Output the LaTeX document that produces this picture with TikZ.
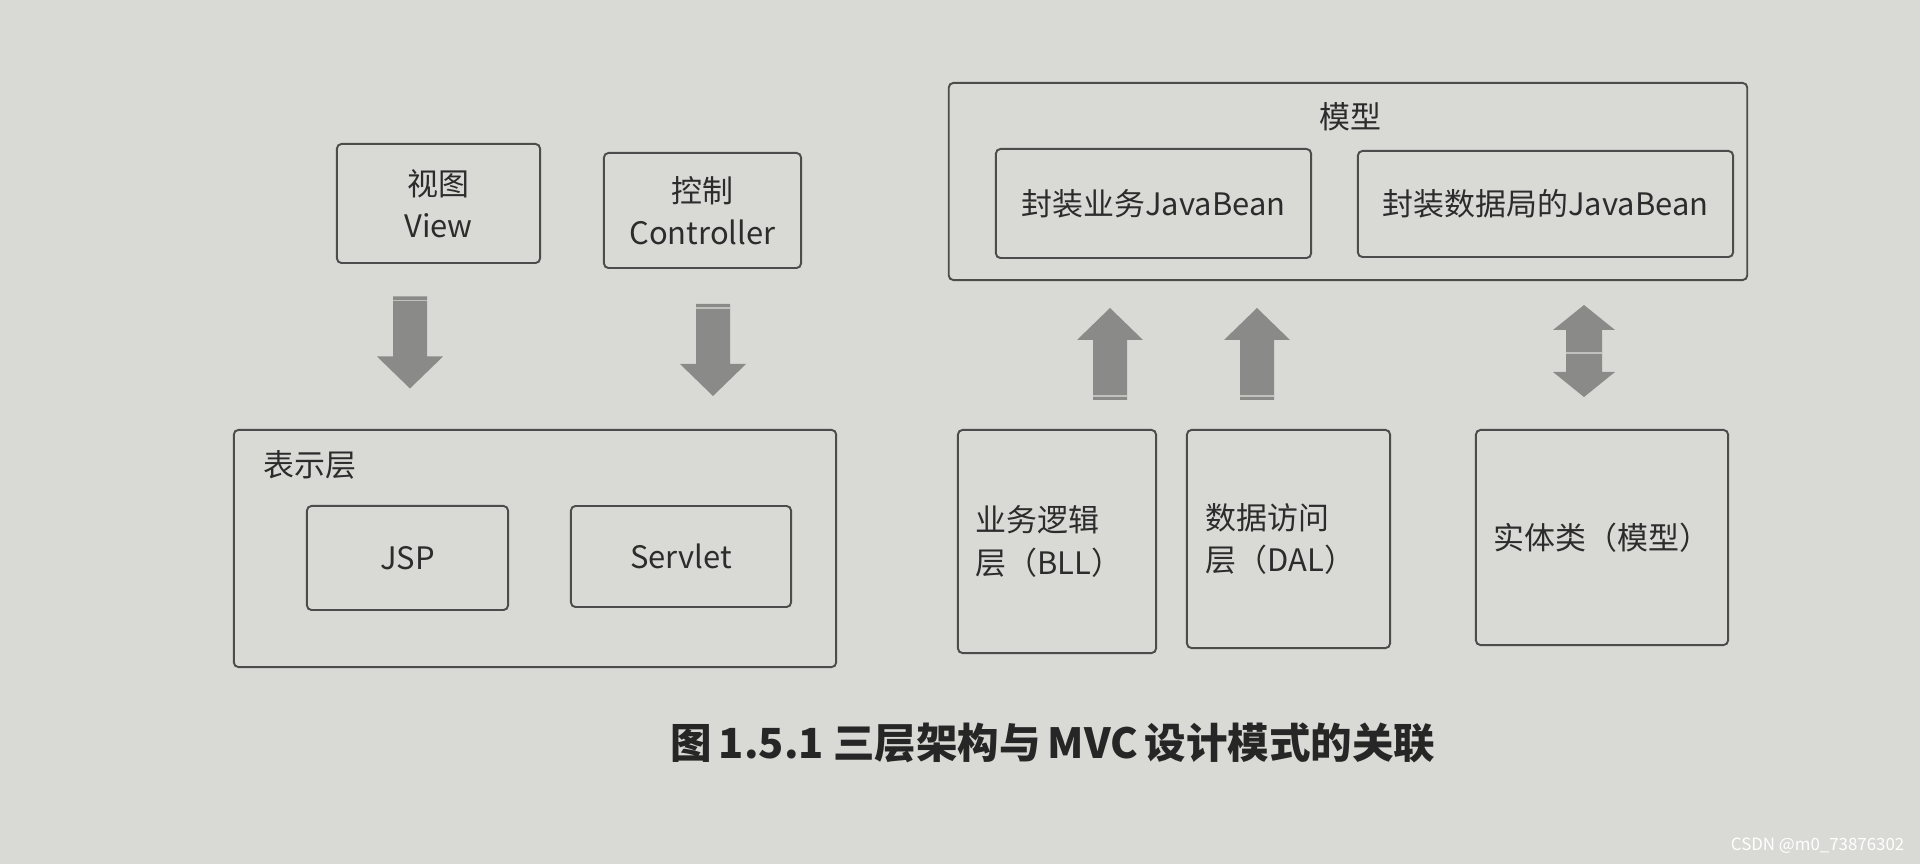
\documentclass[tikz,border=0pt]{standalone}
\usepackage{fontspec}
\setmainfont{Noto Sans CJK SC}
\definecolor{bg}{HTML}{D9D9D6}
\definecolor{bgl}{HTML}{DEDEDB}
\definecolor{ln}{HTML}{4C4C4C}
\definecolor{arr}{HTML}{8A8A89}
\definecolor{txt}{HTML}{2C2C2C}
\begin{document}
\begin{tikzpicture}[x=0.01cm,y=-0.01cm,
  box/.style={draw=ln, line width=0.55pt, rounded corners=1.3pt, inner sep=0pt,
    text=txt, font=\fontsize{8.8}{12}\selectfont, align=center},
  lbl/.style={inner sep=0pt, text=txt, font=\fontsize{8.8}{12}\selectfont, align=left},
  uparr/.pic={
    \fill[arr] (-17,46) -- (-17,-14) -- (-33,-14) -- (0,-46) -- (33,-14) -- (17,-14) -- (17,46) -- cycle;
    \draw[arr!35!bgl, line width=0.3pt] (-17,42) -- (17,42);
  },
  dblarr/.pic={
    \fill[arr] (0,-46) -- (31,-21) -- (18,-21) -- (18,21) -- (31,21) -- (0,46) -- (-31,21) -- (-18,21) -- (-18,-21) -- (-31,-21) -- cycle;
    \draw[arr!35!bgl, line width=0.3pt] (-18,2) -- (18,2);
  }
]
\fill[bg] (0,0) rectangle (1920,864);
\useasboundingbox (0,0) rectangle (1920,864);

% left group
\node[box, minimum width=2.03cm, minimum height=1.19cm] (view) at (438.5,203.5) {视图\\View};
\node[box, minimum width=1.97cm, minimum height=1.15cm] (ctrl) at (702.5,210.5) {控制\\Controller};
\node[box, minimum width=6.02cm, minimum height=2.37cm] (pres) at (535,548.5) {};
\node[lbl, anchor=west] (presl) at (263,465) {表示层};
\node[box, minimum width=2.01cm, minimum height=1.04cm] (jsp) at (407.5,558) {JSP};
\node[box, minimum width=2.20cm, minimum height=1.01cm] (servlet) at (681,556.5) {Servlet};

% model group
\node[box, minimum width=7.98cm, minimum height=1.97cm] (model) at (1348,181.5) {};
\node[lbl] (modell) at (1350,117) {模型};
\node[box, minimum width=3.15cm, minimum height=1.09cm] (bizbean) at (1153.5,203.5) {封装业务JavaBean};
\node[box, minimum width=3.75cm, minimum height=1.06cm] (databean) at (1545.5,204) {封装数据局的JavaBean};

% lower right boxes
\node[box, minimum width=1.98cm, minimum height=2.23cm] (bll) at (1057,541.5) {};
\node[lbl, anchor=west] (blll) at ([xshift=0.18cm]bll.west) {业务逻辑\\层（BLL）};
\node[box, minimum width=2.03cm, minimum height=2.18cm] (dal) at (1288.5,539) {};
\node[lbl, anchor=west] (dall) at ([xshift=0.19cm]dal.west) {数据访问\\层（DAL）};
\node[box, minimum width=2.52cm, minimum height=2.15cm] (entity) at (1602,537.5) {实体类（模型）};

% block arrows
\coordinate (a1) at (410,342.5);
\coordinate (a2) at (713,350);
\coordinate (a3) at (1110,354);
\coordinate (a4) at (1257,354);
\coordinate (a5) at (1584,351);
\pic[rotate=180] at (a1) {uparr};
\pic[rotate=180] at (a2) {uparr};
\pic at (a3) {uparr};
\pic at (a4) {uparr};
\pic at (a5) {dblarr};

% caption
\node[inner sep=0pt, text=black!85, font=\fontsize{11.8}{14}\selectfont\bfseries] (cap) at (1053,743)
  {图\,1.5.1\ 三层架构与\,MVC\,设计模式的关联};

% watermark
\node[inner sep=0pt, text=white, font=\fontsize{4.8}{6}\selectfont, anchor=east] (wm) at (1905,846) {CSDN @m0\_73876302};
\end{tikzpicture}
\end{document}
